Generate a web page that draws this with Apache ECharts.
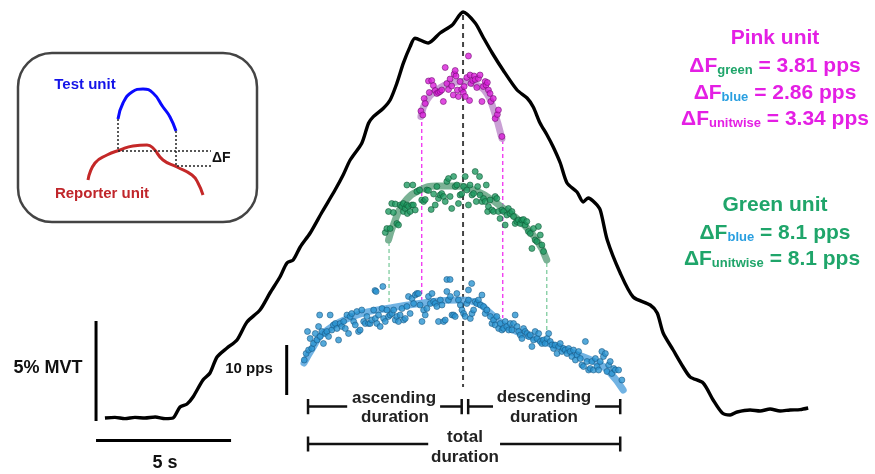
<!DOCTYPE html>
<html>
<head>
<meta charset="utf-8">
<script src="https://cdn.jsdelivr.net/npm/echarts@6/dist/echarts.min.js"></script>
<style>
  html, body { margin: 0; padding: 0; background: #fff; }
  #main { width: 875px; height: 474px; }
</style>
</head>
<body>
<div id="main"></div>
<script>
// force trace: [time s, force %MVT]
var forceTrace = [[0.33,0],[0.70,0.03],[1.07,-0.03],[1.44,0.03],[1.81,0],[2.19,0.05],[2.56,-0.03],[2.85,0],
  [3.11,0.55],[3.37,0.7],[3.59,1.05],[3.96,1.9],[4.22,2.25],[4.48,3.05],[4.85,3.5],[5.22,3.9],[5.59,4.8],
  [6.07,5.4],[6.44,6.25],[6.81,7.05],[7.07,7.75],[7.30,7.9],[7.56,8.55],[7.93,9.25],[8.37,10.3],[8.85,11.4],
  [9.15,12.15],[9.41,12.9],[9.84,13.74],[10.09,14.74],[10.27,15.07],[10.64,15.49],[10.89,15.9],[11.14,16.74],
  [11.38,17.74],[11.63,18.57],[11.81,18.99],[12.30,18.75],[12.74,19.25],[13.19,19.65],[13.59,20.3],
  [14.04,19.75],[14.33,19.05],[14.67,18.25],[15.07,17.4],[15.59,16.4],[15.96,16.0],[16.19,15.55],[16.44,14.75],
  [16.70,14.15],[16.93,13.55],[17.19,12.75],[17.44,11.75],[17.81,11.3],[18.04,10.8],[18.22,11.0],[18.48,10.75],
  [18.67,10.4],[18.93,8.9],[19.41,7.25],[19.89,6.05],[20.52,5.65],[20.78,5.25],[21.00,4.25],[21.37,3.4],
  [21.74,2.55],[22.00,2.05],[22.48,1.75],[22.85,0.9],[23.19,0.25],[23.48,0.15],[23.74,0.3],[24.22,0.4],
  [24.59,0.35],[24.96,0.45],[25.33,0.35],[25.70,0.4],[26.07,0.42],[26.37,0.5]];

// discharge rates: [time s, pps]
var pinkSpikes = [[12.03,13.8],[12.10,13.0],[12.15,16.3],[12.19,15.3],[12.31,19.8],[12.43,19.9],[12.49,18.9],
  [12.34,17.5],[12.56,17.9],[12.62,17.3],[12.68,17.5],[12.74,17.7],[12.80,18.0],[12.86,15.7],[12.93,22.5],
  [12.99,19.3],[13.05,18.1],[13.11,20.2],[13.17,18.8],[13.23,17.0],[13.26,21.2],[13.30,21.9],[13.33,20.8],
  [13.38,18.0],[13.42,16.7],[13.48,19.7],[13.54,18.1],[13.60,17.5],[13.63,18.7],[13.67,16.7],[13.73,20.5],
  [13.79,24.8],[13.83,15.9],[13.85,21.0],[13.88,19.3],[13.95,19.9],[14.00,20.8],[14.04,20.1],[14.10,18.5],
  [14.16,20.3],[14.22,21.0],[14.29,15.7],[14.34,18.7],[14.41,19.7],[14.44,19.0],[14.49,19.5],[14.53,18.0],
  [14.59,17.3],[14.62,15.7],[14.71,16.3],[14.78,12.3],[14.86,13.1],[14.90,14.0],[15.03,8.7]];
var pinkFit = [[12.03,12.7],[12.25,16.0],[12.62,18.0],[13.11,19.3],[13.60,19.7],[14.10,19.0],[14.47,17.3],[14.71,14.3],[15.03,8.3]];

var greenSpikes = [[10.71,11.5],[10.77,12.3],[10.83,15.7],[10.89,12.3],[10.95,17.3],[11.01,15.5],[11.08,17.2],
  [11.14,13.3],[11.20,13.0],[11.26,17.0],[11.32,16.7],[11.38,17.3],[11.38,15.7],[11.45,16.3],[11.51,17.0],
  [11.53,15.3],[11.57,16.7],[11.63,15.7],[11.69,17.0],[11.75,17.0],[11.82,16.0],[11.51,21.0],[11.73,21.0],
  [11.88,19.7],[11.98,20.0],[12.06,18.0],[12.13,17.7],[12.19,18.1],[12.25,20.0],[12.31,19.9],[12.41,16.1],
  [12.50,19.2],[12.56,17.0],[12.62,20.7],[12.68,18.3],[12.74,19.0],[12.80,19.3],[12.87,18.7],[12.93,17.7],
  [12.99,21.7],[13.05,22.3],[13.11,18.7],[13.17,16.3],[13.24,22.7],[13.30,20.7],[13.36,21.0],[13.42,17.3],
  [13.48,19.0],[13.54,19.2],[13.61,20.7],[13.67,22.7],[13.73,20.0],[13.79,17.0],[13.85,21.0],[13.92,19.0],
  [13.98,19.3],[14.04,23.7],[14.08,17.7],[14.13,20.7],[14.20,22.7],[14.22,19.0],[14.29,17.7],[14.35,18.3],
  [14.41,17.7],[14.45,21.0],[14.50,15.7],[14.53,16.7],[14.59,18.0],[14.66,16.0],[14.72,15.7],[14.78,18.7],
  [14.84,18.3],[14.90,15.7],[14.96,14.3],[15.03,16.0],[15.09,15.7],[15.15,13.0],[15.21,15.0],[15.27,16.3],
  [15.33,15.3],[15.40,15.7],[15.46,14.7],[15.52,13.3],[15.58,13.7],[15.64,14.0],[15.71,13.3],[15.77,14.0],
  [15.83,14.1],[15.89,13.0],[15.95,13.7],[16.01,11.7],[16.08,11.3],[16.14,8.3],[16.20,12.3],[16.26,10.0],
  [16.32,9.7],[16.38,12.7],[16.45,11.0],[16.51,9.0],[16.57,7.7]];
var greenFit = [[10.83,10.0],[11.01,13.0],[11.38,17.3],[12.00,20.0],[12.62,20.8],[13.24,20.8],[13.85,20.3],
  [14.47,18.7],[15.09,16.3],[15.71,13.7],[16.32,10.0],[16.69,6.0]];

var blueSpikes = [[7.71,14.0],[7.78,15.3],[7.87,16.0],[7.83,19.7],[7.93,18.3],[7.99,16.3],[8.05,17.3],[8.12,19.3],
  [8.18,18.0],[8.24,20.7],[8.28,23.0],[8.30,18.7],[8.36,19.7],[8.42,17.3],[8.49,19.3],[8.55,19.7],[8.61,18.7],
  [8.67,23.0],[8.73,20.0],[8.79,21.0],[8.86,21.3],[8.92,20.3],[8.98,18.0],[9.04,21.3],[9.10,20.7],[9.17,21.7],
  [9.23,20.3],[9.29,23.0],[9.35,19.3],[9.41,22.7],[9.47,23.3],[9.54,21.7],[9.60,21.0],[9.66,23.7],[9.72,19.7],
  [9.78,20.0],[9.84,24.0],[9.91,21.7],[9.97,21.3],[10.03,22.7],[10.09,21.3],[10.15,21.3],[10.21,22.0],
  [10.28,24.0],[10.34,22.3],[10.40,21.3],[10.46,23.0],[10.52,20.7],[10.59,24.3],[10.65,22.3],[10.71,21.7],
  [10.77,24.0],[10.83,22.7],[10.89,23.0],[10.96,23.3],[11.02,24.0],[11.08,22.0],[11.14,22.7],[11.20,21.7],
  [11.26,23.0],[11.33,24.3],[11.39,22.0],[11.45,22.3],[11.51,24.7],[11.57,26.7],[11.63,23.3],[11.70,26.3],
  [11.76,25.3],[11.82,27.0],[11.88,27.3],[11.94,27.3],[12.00,25.0],[12.07,21.7],[12.13,24.0],[12.19,23.0],
  [12.25,24.3],[12.31,26.7],[12.38,25.3],[12.44,27.3],[12.50,25.7],[12.56,25.3],[12.62,24.7],[12.68,21.7],
  [12.75,26.0],[12.81,25.0],[12.87,21.7],[12.93,22.0],[12.99,27.7],[13.05,26.0],[13.12,26.7],[13.18,23.0],
  [13.24,23.0],[13.30,22.7],[13.36,27.3],[13.42,26.0],[13.49,25.0],[13.55,24.0],[13.61,23.3],[13.67,22.7],
  [13.73,25.3],[13.79,26.0],[13.86,22.3],[13.92,23.3],[13.98,24.0],[14.04,25.7],[14.10,25.3],[14.16,26.0],
  [14.23,25.0],[14.29,27.0],[14.35,24.7],[14.41,23.3],[14.47,24.0],[14.60,22.7],[14.66,21.3],[14.72,22.0],
  [14.78,21.0],[14.84,22.7],[14.91,20.3],[14.97,21.3],[15.03,20.0],[15.09,20.3],[15.15,21.7],[15.21,20.7],
  [15.28,20.0],[15.34,21.3],[15.40,20.0],[15.46,21.3],[15.52,23.0],[15.59,20.7],[15.65,19.7],[15.71,19.0],
  [15.77,18.3],[15.83,20.3],[15.89,19.7],[15.96,19.3],[16.02,18.7],[16.08,19.0],[16.14,16.7],[16.20,18.0],
  [16.26,19.7],[16.33,18.3],[16.39,19.3],[16.45,17.7],[16.51,17.3],[16.57,18.0],[16.63,17.3],[16.70,18.3],
  [16.76,19.3],[16.82,17.7],[16.88,17.0],[16.94,16.3],[17.00,17.0],[17.07,15.3],[17.13,16.7],[17.19,17.3],
  [17.25,15.7],[17.31,16.3],[17.37,16.0],[17.44,15.3],[17.50,16.3],[17.56,15.7],[17.62,14.7],[17.68,16.0],
  [17.75,14.0],[17.81,15.0],[17.87,15.7],[17.93,14.3],[17.99,13.0],[18.05,12.7],[18.12,17.7],[18.18,13.7],
  [18.24,12.0],[18.30,12.3],[18.36,13.7],[18.42,12.0],[18.49,14.3],[18.55,12.7],[18.61,12.0],[18.67,13.7],
  [18.73,15.7],[18.79,14.7],[18.86,15.3],[18.92,11.7],[18.98,13.0],[19.04,13.7],[19.10,11.3],[19.17,12.3],
  [19.23,12.0],[19.35,12.0],[19.47,10.0],[10.33,27.9],[10.62,28.7],[12.99,30.1],[13.11,30.1],[13.91,29.3],
  [13.79,28.0],[10.37,27.7]];
var blueFit = [[7.70,13.4],[8.04,16.6],[8.41,19.4],[9.67,23.0],[10.89,24.4],[12.11,25.4],[13.37,26.0],[14.11,25.4],
  [14.59,23.4],[15.22,20.6],[16.44,18.0],[17.67,15.4],[18.56,13.4],[19.04,11.4],[19.52,8.0]];

// schematic inset (arbitrary units)
var insetTest = [[10.0,10.3],[10.5,11.9],[11.4,13.0],[12.5,13.3],[13.5,12.9],[14.5,11.5],[15.2,10.5],[15.8,9.1]];
var insetReporter = [[7.0,4.2],[7.7,5.9],[8.9,6.7],[10.2,7.2],[11.5,7.6],[12.9,7.7],[13.5,7.4],[14.5,6.2],
  [15.9,5.5],[17.4,4.7],[18.0,3.9],[18.5,2.7]];

var FONT = '"Liberation Sans", Arial, sans-serif';
var chart = echarts.init(document.getElementById('main'));

function seg(pts, yIdx, color, width, type) {
  return {
    type: 'line', xAxisIndex: 0, yAxisIndex: yIdx, data: pts, showSymbol: false, silent: true,
    lineStyle: { color: color, width: width, type: type || 'solid' }, z: 3
  };
}
function spikes(data, yIdx, color, border) {
  return {
    type: 'scatter', xAxisIndex: 0, yAxisIndex: yIdx, data: data, symbolSize: 6, z: 6,
    itemStyle: { color: color, borderColor: border, borderWidth: 0.7 }
  };
}
function fit(data, yIdx, color) {
  return {
    type: 'line', xAxisIndex: 0, yAxisIndex: yIdx, data: data, smooth: true, showSymbol: false, z: 4,
    lineStyle: { color: color, width: 7, cap: 'round' }
  };
}
function txt(x, y, s, size, color) {
  return {
    type: 'text', x: x, y: y, z: 20,
    style: { text: s, font: 'bold ' + size + 'px ' + FONT, fill: color, align: 'center', verticalAlign: 'middle' }
  };
}
function rich(x, y, parts, color) {
  var s = parts.map(function (p) { return '{' + p[0] + '|' + p[1] + '}'; }).join('');
  return {
    type: 'text', x: x, y: y, z: 20,
    style: {
      text: s, align: 'center', verticalAlign: 'middle', fill: color,
      rich: {
        m: { font: 'bold 21px ' + FONT, fill: color, verticalAlign: 'bottom', lineHeight: 24 },
        g: { font: 'bold 13px ' + FONT, fill: '#1fa56a', verticalAlign: 'bottom', lineHeight: 20 },
        b: { font: 'bold 13px ' + FONT, fill: '#2a9fe0', verticalAlign: 'bottom', lineHeight: 20 },
        p: { font: 'bold 13px ' + FONT, fill: '#e41fe4', verticalAlign: 'bottom', lineHeight: 20 },
        q: { font: 'bold 13px ' + FONT, fill: '#1fa56a', verticalAlign: 'bottom', lineHeight: 20 }
      }
    }
  };
}

var capH = 0.38;
var durY = 0.57, totY = -1.3;

var option = {
  animation: false,
  backgroundColor: '#fff',
  grid: [
    { left: 0, top: 0, width: 875, height: 474 },
    { left: 18, top: 53, width: 239, height: 169 }
  ],
  xAxis: [
    { type: 'value', gridIndex: 0, min: -3.556, max: 28.844, show: false },
    { type: 'value', gridIndex: 1, min: 0, max: 23.9, show: false }
  ],
  yAxis: [
    { type: 'value', gridIndex: 0, min: -2.8, max: 20.9, show: false },
    { type: 'value', gridIndex: 0, min: -8.8, max: 86, show: false },
    { type: 'value', gridIndex: 0, min: -36.8, max: 58, show: false },
    { type: 'value', gridIndex: 0, min: -58.8, max: 36, show: false },
    { type: 'value', gridIndex: 1, min: 0, max: 16.9, show: false }
  ],
  series: [
    { type: 'line', xAxisIndex: 0, yAxisIndex: 0, data: forceTrace, smooth: 0.25, showSymbol: false, z: 2,
      lineStyle: { color: '#000', width: 3.4 } },
    // peak marker
    seg([[13.59, 20.15], [13.59, 1.55]], 0, '#444', 2, [5, 4]),
    // unit connectors
    seg([[12.06, 61.6], [12.06, 26]], 1, '#f030f0', 1.3, [4, 3]),
    seg([[15.06, 58], [15.06, 22.4]], 1, '#f030f0', 1.3, [4, 3]),
    seg([[10.85, 37.6], [10.85, 25]], 1, '#7fcc9f', 1.3, [4, 3]),
    seg([[16.69, 33.4], [16.69, 20]], 1, '#7fcc9f', 1.3, [4, 3]),
    fit(blueFit, 1, 'rgba(88,166,222,0.85)'),
    fit(greenFit, 2, 'rgba(100,165,130,0.85)'),
    fit(pinkFit, 3, 'rgba(196,150,208,0.9)'),
    spikes(blueSpikes, 1, '#2b93d1', '#15557f'),
    spikes(greenSpikes, 2, '#1f9a62', '#0c5533'),
    spikes(pinkSpikes, 3, '#d81fd8', '#6a0a6a'),
    // scale bars
    seg([[0, -0.15], [0, 4.85]], 0, '#000', 3),
    seg([[0, -1.13], [5, -1.13]], 0, '#000', 3),
    seg([[7.06, 7], [7.06, 17]], 1, '#000', 3),
    // duration bars
    seg([[7.85, durY], [9.30, durY], null, [12.74, durY], [13.54, durY]], 0, '#111', 2.5),
    seg([[13.78, durY], [14.70, durY], null, [18.48, durY], [19.41, durY]], 0, '#111', 2.5),
    seg([[7.85, totY], [12.30, totY], null, [14.96, totY], [19.41, totY]], 0, '#111', 2.5),
    seg([[7.85, durY - capH], [7.85, durY + capH], null, [13.54, durY - capH], [13.54, durY + capH], null,
         [13.78, durY - capH], [13.78, durY + capH], null, [19.41, durY - capH], [19.41, durY + capH], null,
         [7.85, totY - capH], [7.85, totY + capH], null, [19.41, totY - capH], [19.41, totY + capH]], 0, '#111', 2.5),
    // inset
    { type: 'line', xAxisIndex: 1, yAxisIndex: 4, data: insetTest, smooth: true, showSymbol: false,
      lineStyle: { color: '#0a0aff', width: 3 } },
    { type: 'line', xAxisIndex: 1, yAxisIndex: 4, data: insetReporter, smooth: true, showSymbol: false,
      lineStyle: { color: '#c42828', width: 3 } },
    { type: 'line', xAxisIndex: 1, yAxisIndex: 4, showSymbol: false,
      data: [[10.0, 10.3], [10.0, 7.1], [19.3, 7.1], null, [15.8, 9.1], [15.8, 5.6], [19.3, 5.6]],
      lineStyle: { color: '#222', width: 1.5, type: [2, 2] } }
  ],
  graphic: [
    { type: 'rect', z: 1, shape: { x: 18, y: 53, width: 239, height: 169, r: 34 },
      style: { fill: 'none', stroke: '#444', lineWidth: 2.5 } },
    txt(85, 85, 'Test unit', 15, '#1414e8'),
    txt(102, 194, 'Reporter unit', 15, '#c0262b'),
    { type: 'text', x: 212, y: 158, z: 20,
      style: { text: 'ΔF', font: 'bold 14px ' + FONT, fill: '#111', align: 'left', verticalAlign: 'middle' } },
    txt(48, 368, '5% MVT', 18, '#111'),
    txt(165, 463, '5 s', 18, '#111'),
    txt(249, 369, '10 pps', 15, '#111'),
    txt(394, 398, 'ascending', 17, '#222'),
    txt(395, 417, 'duration', 17, '#222'),
    txt(544, 397, 'descending', 17, '#222'),
    txt(544, 417, 'duration', 17, '#222'),
    txt(465, 437, 'total', 17, '#222'),
    txt(465, 457, 'duration', 17, '#222'),
    txt(775, 38, 'Pink unit', 21, '#e41fe4'),
    rich(775, 65, [['m', 'ΔF'], ['g', 'green'], ['m', ' = 3.81 pps']], '#e41fe4'),
    rich(775, 92, [['m', 'ΔF'], ['b', 'blue'], ['m', ' = 2.86 pps']], '#e41fe4'),
    rich(775, 118, [['m', 'ΔF'], ['p', 'unitwise'], ['m', ' = 3.34 pps']], '#e41fe4'),
    txt(775, 205, 'Green unit', 21, '#1fa56a'),
    rich(775, 232, [['m', 'ΔF'], ['b', 'blue'], ['m', ' = 8.1 pps']], '#1fa56a'),
    rich(772, 258, [['m', 'ΔF'], ['q', 'unitwise'], ['m', ' = 8.1 pps']], '#1fa56a')
  ]
};
chart.setOption(option);
</script>
</body>
</html>
